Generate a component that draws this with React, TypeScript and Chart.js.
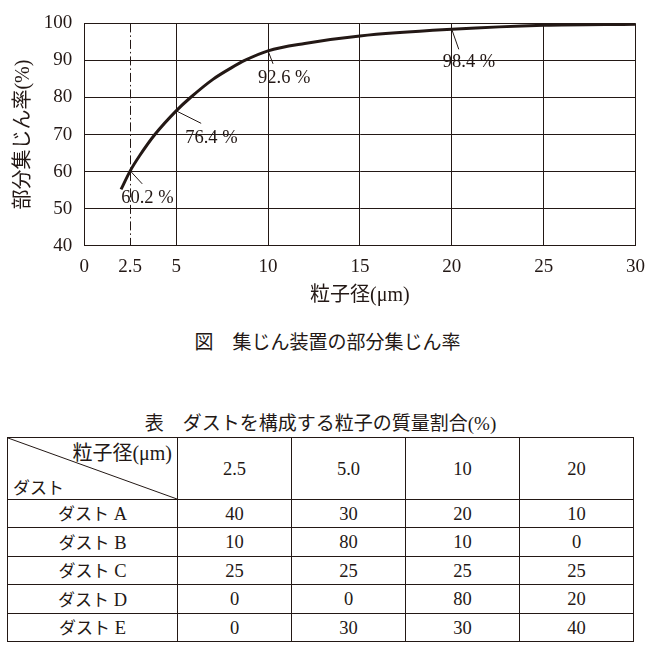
import React, { useEffect, useRef } from "react";
import { Chart, registerables } from "chart.js";

Chart.register(...registerables);

// ---- chart data ----
const particleSize = [2.0, 2.5, 3.0, 3.84, 5, 5.78, 7, 8, 8.73, 10, 12, 15, 20, 25, 30];
const collectionRate = [55.2, 60.2, 64.2, 70, 76.4, 80, 84.9, 88, 90, 92.6, 94.6, 96.6, 98.4, 99.5, 99.8];
const xTickValues = [0, 2.5, 5, 10, 15, 20, 25, 30];
const dashDotAt = 2.5;
const labelSizes = [2.5, 5, 10, 20];
const labelRates = [60.2, 76.4, 92.6, 98.4];

// ---- table data ----
const tableSizes = ["2.5", "5.0", "10", "20"];
const dustNames = ["ダスト A", "ダスト B", "ダスト C", "ダスト D", "ダスト E"];
const dustA = [40, 30, 20, 10];
const dustB = [10, 80, 10, 0];
const dustC = [25, 25, 25, 25];
const dustD = [0, 0, 80, 20];
const dustE = [0, 30, 30, 40];
const dustRows = [dustA, dustB, dustC, dustD, dustE];

const INK = "#231815";
const SERIF = "'Liberation Serif', 'Noto Sans CJK JP', serif";
const CJK = "'Noto Sans CJK JP', sans-serif";

// leader line end (lx, ly) and text anchor (tx, ty: left / middle) relative to the point
const LABEL_OFFSETS = [
  { lx: 12, ly: 13, tx: -9, ty: 27 },
  { lx: 25, ly: 12.5, tx: 9, ty: 27 },
  { lx: 5, ly: 13, tx: -10, ty: 27 },
  { lx: 7, ly: 20, tx: -9, ty: 33 },
];

function RateChart() {
  const ref = useRef<HTMLCanvasElement>(null);
  useEffect(() => {
    const canvas = ref.current;
    if (!canvas) return;
    const annot = {
      id: "annot",
      beforeDatasetsDraw(chart: any) {
        const { ctx, chartArea, scales } = chart;
        const px = Math.round(scales.x.getPixelForValue(dashDotAt)) + 0.5;
        ctx.save();
        ctx.strokeStyle = INK;
        ctx.lineWidth = 1;
        ctx.setLineDash([9, 3, 1.5, 3]);
        ctx.beginPath();
        ctx.moveTo(px, chartArea.top);
        ctx.lineTo(px, chartArea.bottom);
        ctx.stroke();
        ctx.restore();
      },
      afterDatasetsDraw(chart: any) {
        const { ctx, scales } = chart;
        ctx.save();
        ctx.font = `18.5px ${SERIF}`;
        ctx.fillStyle = INK;
        ctx.strokeStyle = INK;
        ctx.lineWidth = 1;
        ctx.textBaseline = "middle";
        ctx.textAlign = "left";
        labelSizes.forEach((s, i) => {
          const px = scales.x.getPixelForValue(s);
          const py = scales.y.getPixelForValue(labelRates[i]);
          const o = LABEL_OFFSETS[i];
          ctx.beginPath();
          ctx.moveTo(px, py);
          ctx.lineTo(px + o.lx, py + o.ly);
          ctx.stroke();
          ctx.fillText(`${labelRates[i].toFixed(1)} %`, px + o.tx, py + o.ty);
        });
        ctx.restore();
      },
    };
    const chart = new Chart(canvas, {
      type: "line",
      data: {
        datasets: [
          {
            data: particleSize.map((x, i) => ({ x, y: collectionRate[i] })),
            borderColor: INK,
            borderWidth: 3,
            pointRadius: 0,
            fill: false,
            cubicInterpolationMode: "monotone",
          },
        ],
      },
      options: {
        animation: false,
        responsive: true,
        maintainAspectRatio: false,
        layout: { padding: { top: 19, right: 18, bottom: 0, left: 0 } },
        plugins: { legend: { display: false }, tooltip: { enabled: false } },
        scales: {
          x: {
            type: "linear",
            min: 0,
            max: 30,
            afterBuildTicks: (s: any) => {
              s.ticks = xTickValues.map((v) => ({ value: v }));
            },
            afterFit: (s: any) => {
              s.height = 74.3;
            },
            grid: {
              color: (c: any) => (c.tick && c.tick.value === dashDotAt ? "rgba(0,0,0,0)" : INK),
              lineWidth: 1,
              drawTicks: false,
            },
            border: { color: INK, width: 1 },
            ticks: {
              color: INK,
              font: { family: SERIF, size: 19 },
              padding: 10,
              maxRotation: 0,
              autoSkip: false,
              callback: (v: any) => String(v),
            },
            title: {
              display: true,
              text: "粒子径(μm)",
              color: INK,
              font: { family: SERIF, size: 20 },
              padding: { top: 0, bottom: 12 },
            },
          },
          y: {
            min: 40,
            max: 100,
            afterFit: (s: any) => {
              s.width = 84.3;
            },
            grid: { color: INK, lineWidth: 1, drawTicks: false },
            border: { color: INK, width: 1 },
            ticks: {
              stepSize: 10,
              color: INK,
              font: { family: SERIF, size: 19 },
              padding: 12,
            },
            title: {
              display: true,
              text: "部分集じん率(%)",
              color: INK,
              font: { family: SERIF, size: 20 },
              padding: { top: 12, bottom: 0 },
            },
          },
        },
      },
      plugins: [annot],
    } as any);
    return () => chart.destroy();
  }, []);
  return (
    <div style={{ position: "absolute", left: 0, top: 0, width: 655, height: 320 }}>
      <canvas ref={ref} />
    </div>
  );
}

const cell: React.CSSProperties = {
  border: `1px solid ${INK}`,
  padding: 0,
  textAlign: "center",
  verticalAlign: "middle",
  fontSize: 18.5,
  lineHeight: "20px",
};

const kana: React.CSSProperties = {
  fontFamily: CJK,
  fontSize: 17,
};

export default function App() {
  const rowHeights = [28, 29, 28, 29, 28];
  return (
    <div
      style={{
        position: "absolute",
        left: 0,
        top: 0,
        width: 655,
        height: 653,
        background: "#fff",
        color: INK,
        fontFamily: SERIF,
      }}
    >
      <RateChart />
      <div
        style={{
          position: "absolute",
          left: 0,
          top: 331,
          width: 655,
          textAlign: "center",
          fontSize: 19,
          lineHeight: "24px",
        }}
      >
        図　集じん装置の部分集じん率
      </div>
      <div
        style={{
          position: "absolute",
          left: 7,
          top: 412,
          width: 627,
          textAlign: "center",
          fontSize: 19,
          lineHeight: "24px",
        }}
      >
        表　ダストを構成する粒子の質量割合(%)
      </div>
      <table
        style={{
          position: "absolute",
          left: 7,
          top: 437,
          width: 627,
          borderCollapse: "collapse",
          tableLayout: "fixed",
          fontFamily: SERIF,
          color: INK,
        }}
      >
        <colgroup>
          <col style={{ width: 170 }} />
          {tableSizes.map((s) => (
            <col key={s} style={{ width: 114 }} />
          ))}
        </colgroup>
        <tbody>
          <tr style={{ height: 62 }}>
            <td style={{ ...cell, position: "relative" }}>
              <svg
                width="100%"
                height="100%"
                style={{ position: "absolute", left: 0, top: 0 }}
                preserveAspectRatio="none"
              >
                <line x1="0" y1="0" x2="100%" y2="100%" stroke={INK} strokeWidth={1} />
              </svg>
              <span style={{ position: "absolute", right: 5, top: 3, fontSize: 20, lineHeight: "24px" }}>
                粒子径(μm)
              </span>
              <span
                style={{
                  position: "absolute",
                  left: 5,
                  bottom: 1,
                  fontFamily: CJK,
                  fontSize: 17,
                  lineHeight: "22px",
                }}
              >
                ダスト
              </span>
            </td>
            {tableSizes.map((s) => (
              <td key={s} style={cell}>
                {s}
              </td>
            ))}
          </tr>
          {dustRows.map((row, r) => (
            <tr key={dustNames[r]} style={{ height: rowHeights[r] }}>
              <td style={cell}>
                <span style={kana}>{dustNames[r].split(" ")[0]}</span>
                <span> {dustNames[r].split(" ")[1]}</span>
              </td>
              {row.map((v, c) => (
                <td key={c} style={cell}>
                  {v}
                </td>
              ))}
            </tr>
          ))}
        </tbody>
      </table>
    </div>
  );
}
